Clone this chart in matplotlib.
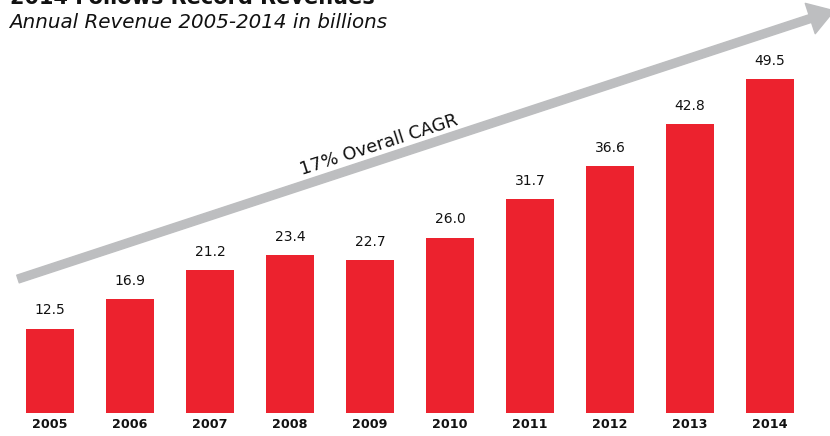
import matplotlib
matplotlib.use("Agg")
import matplotlib.pyplot as plt

# dados do gráfico
anos = ["2005", "2006", "2007", "2008", "2009", "2010", "2011", "2012", "2013", "2014"]
receita = [12.5, 16.9, 21.2, 23.4, 22.7, 26.0, 31.7, 36.6, 42.8, 49.5]
rotulos = ["12.5", "16.9", "21.2", "23.4", "22.7", "26.0", "31.7", "36.6", "42.8", "49.5"]

VERMELHO = "#ec222e"
CINZA = "#bdbec0"


def main():
    plt.rcParams['font.family'] = ['DejaVu Sans']

    fig = plt.figure(figsize=(8.3, 4.36), dpi=100)
    ax = fig.add_axes([0, 0, 1, 1])

    x = list(range(len(anos)))
    ax.bar(x, receita, width=0.6, color=VERMELHO, zorder=2)

    for xi, v, r in zip(x, receita, rotulos):
        ax.text(xi, v + 2.7, r, ha="center", va="center", fontsize=10, color="#111111")

    ax.set_xlim(-0.625, 9.75)
    ax.set_ylim(-3.41, 61.19)

    # seta de crescimento (CAGR)
    ax.annotate("", xy=(9.8, 59.6), xytext=(-0.4, 19.85),
                arrowprops=dict(arrowstyle="simple,head_length=0.9,head_width=1.15,tail_width=0.29",
                                mutation_scale=20, color=CINZA, shrinkA=0, shrinkB=0),
                annotation_clip=False, zorder=1)
    ax.text(4.11, 39.7, "17% Overall CAGR", rotation=17.8, ha="center", va="center",
            fontsize=12.8, color="#111111", rotation_mode="anchor")

    # anos embaixo das barras
    for xi, a in zip(x, anos):
        ax.text(xi, -1.75, a, ha="center", va="center", fontsize=9.2, fontweight="bold", color="#111111")

    ax.axis("off")

    # título cortado no topo, como na imagem original
    fig.text(10 / 830, 1 - 4 / 436, "2014 Follows Record Revenues", fontsize=15, fontweight="bold",
             ha="left", va="baseline", color="#111111")
    fig.text(9 / 830, 1 - 23 / 436, "Annual Revenue 2005-2014 in billions", fontsize=14.3,
             fontstyle="italic", ha="left", va="center", color="#111111")

    fig.savefig("out.png", dpi=100)


if __name__ == "__main__":
    main()
